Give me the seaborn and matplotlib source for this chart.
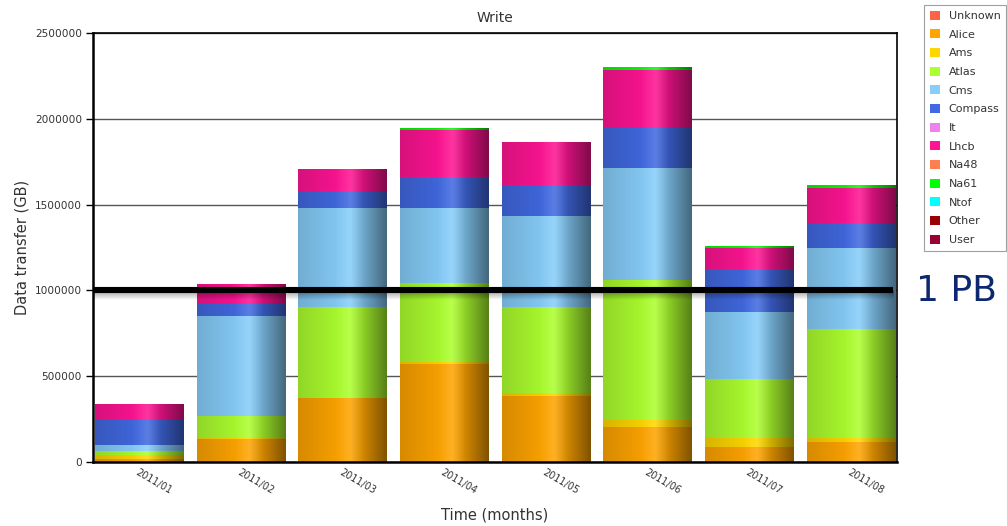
import numpy as np
import pandas as pd
import matplotlib
matplotlib.use("Agg")
import matplotlib.pyplot as plt
from matplotlib.patches import Patch
from matplotlib.colors import to_rgb
import seaborn as sns

# Monthly write volume per experiment (GB)
months = ["2011/01", "2011/02", "2011/03", "2011/04",
          "2011/05", "2011/06", "2011/07", "2011/08"]

unknown = [0, 0, 0, 0, 0, 0, 0, 0]
alice = [20000, 135000, 374000, 573000, 384000, 204000, 86000, 115000]
ams = [20000, 5000, 0, 10000, 21000, 43000, 52000, 23000]
atlas = [23000, 126000, 532000, 459000, 501000, 812000, 347000, 637000]
cms = [35000, 586000, 574000, 439000, 528000, 652000, 391000, 470000]
compass = [149000, 68000, 101000, 180000, 182000, 238000, 251000, 149000]
it = [0, 0, 0, 0, 0, 0, 0, 0]
lhcb = [89000, 116000, 125000, 271000, 250000, 338000, 122000, 200000]
na48 = [0, 0, 0, 0, 0, 0, 0, 0]
na61 = [0, 0, 0, 8000, 0, 12000, 8000, 12000]
ntof = [0, 0, 0, 0, 0, 0, 0, 0]
other = [0, 0, 0, 0, 0, 0, 0, 0]
user = [0, 0, 0, 0, 0, 0, 0, 0]

series_names = ["Unknown", "Alice", "Ams", "Atlas", "Cms", "Compass", "It",
                "Lhcb", "Na48", "Na61", "Ntof", "Other", "User"]
series_values = [unknown, alice, ams, atlas, cms, compass, it,
                 lhcb, na48, na61, ntof, other, user]
series_colors = ["#ff6347", "#ffa500", "#ffd700", "#adff2f", "#87cefa",
                 "#4169e1", "#ee82ee", "#ff1493", "#ff7f50", "#00ff00",
                 "#00ffff", "#990000", "#990033"]

threshold = 1_000_000  # 1 PB reference level

df = pd.DataFrame({"month": months})
for name, vals in zip(series_names, series_values):
    df[name] = vals

sns.set_style("white")
plt.rcParams["font.family"] = ["DejaVu Sans"]

W, H = 1007, 526
fig = plt.figure(figsize=(W / 100, H / 100), dpi=100)
ax = fig.add_axes([93 / W, 64 / H, 804 / W, 429 / H])

# stacked bars, bottom to top in legend order
bottom = np.zeros(len(months))
bar_colors = []
for name, color in zip(series_names, series_colors):
    vals = df[name].to_numpy(dtype=float)
    if vals.sum() > 0:
        n_before = len(ax.patches)
        sns.barplot(x=df["month"], y=vals, bottom=bottom.copy(), order=months,
                    color=color, saturation=1, width=0.87, errorbar=None,
                    linewidth=0, ax=ax, zorder=2)
        bar_colors += [color] * (len(ax.patches) - n_before)
    bottom += vals

# cylinder-like horizontal shading on each bar segment
t = np.linspace(0, 1, 256)
shade = np.interp(t, [0, 0.58, 1], [0.84, 1.0, 0.5])
glow = np.interp(t, [0.42, 0.6, 0.74], [0, 0.14, 0])
for patch, color in zip(ax.patches, bar_colors):
    h = patch.get_height()
    if h <= 0:
        continue
    x0 = patch.get_x()
    w = patch.get_width()
    y0 = patch.get_y()
    base = np.array(to_rgb(color))
    img = base[None, :] * shade[:, None]
    img = img * (1 - glow[:, None]) + glow[:, None]
    ax.imshow(img[None, :, :], extent=[x0, x0 + w, y0, y0 + h],
              aspect="auto", interpolation="bilinear", zorder=2.5)

xmin, xmax = -0.455, 7.455
line_end = 7.42

# 1 PB marker line with a soft shadow underneath
shadow = np.zeros((64, 1, 4))
shadow[..., 3] = np.linspace(0.0, 0.4, 64)[:, None]
ax.imshow(shadow, extent=[xmin, line_end, threshold - 55000, threshold],
          aspect="auto", interpolation="bilinear", zorder=4, origin="lower")
ax.plot([xmin, line_end], [threshold, threshold], color="black", lw=4.4,
        solid_capstyle="butt", zorder=5, clip_on=False)

ax.set_xlim(xmin, xmax)
ax.set_ylim(0, 2_500_000)
ax.set_yticks(np.arange(0, 2_500_001, 500_000))
ax.set_yticklabels([str(v) for v in range(0, 2_500_001, 500_000)])
ax.yaxis.grid(True, color="#555555", lw=1.0, zorder=0)
ax.xaxis.grid(False)
ax.set_axisbelow(True)

ax.set_xticks(range(len(months)))
ax.set_xticklabels(months, rotation=-30, ha="left", va="top",
                   rotation_mode="anchor", fontsize=7, color="#333333")
ax.tick_params(axis="x", length=0, pad=4)
ax.tick_params(axis="y", length=5, width=1, color="black", labelsize=7.6,
               labelcolor="#333333", pad=3, left=True)

for side in ["left", "bottom"]:
    ax.spines[side].set_linewidth(1.8)
    ax.spines[side].set_color("black")
for side in ["top", "right"]:
    ax.spines[side].set_linewidth(1.2)
    ax.spines[side].set_color("black")
    ax.spines[side].set_visible(True)

ax.set_title("Write", fontsize=10, color="#333333", pad=8)
ax.set_ylabel("Data transfer (GB)", fontsize=10.5, color="#333333", labelpad=4)
ax.set_xlabel("Time (months)", fontsize=10.5, color="#333333", labelpad=8)

fig.text(956 / W, 1 - 291 / H, "1 PB", ha="center", va="center",
         fontsize=26, color="#0d2870")

handles = [Patch(facecolor=c, edgecolor="none") for c in series_colors]
leg = fig.legend(handles, series_names, loc="upper right",
                 bbox_to_anchor=(1006 / W, 1 - 5 / H), frameon=True,
                 fancybox=False, edgecolor="#888888", fontsize=8,
                 handlelength=0.9, handleheight=0.9, labelspacing=0.74,
                 borderpad=0.5, handletextpad=0.8, borderaxespad=0)
leg.get_frame().set_linewidth(0.8)
for txt in leg.get_texts():
    txt.set_color("#333333")

fig.savefig("out.png", dpi=100)
